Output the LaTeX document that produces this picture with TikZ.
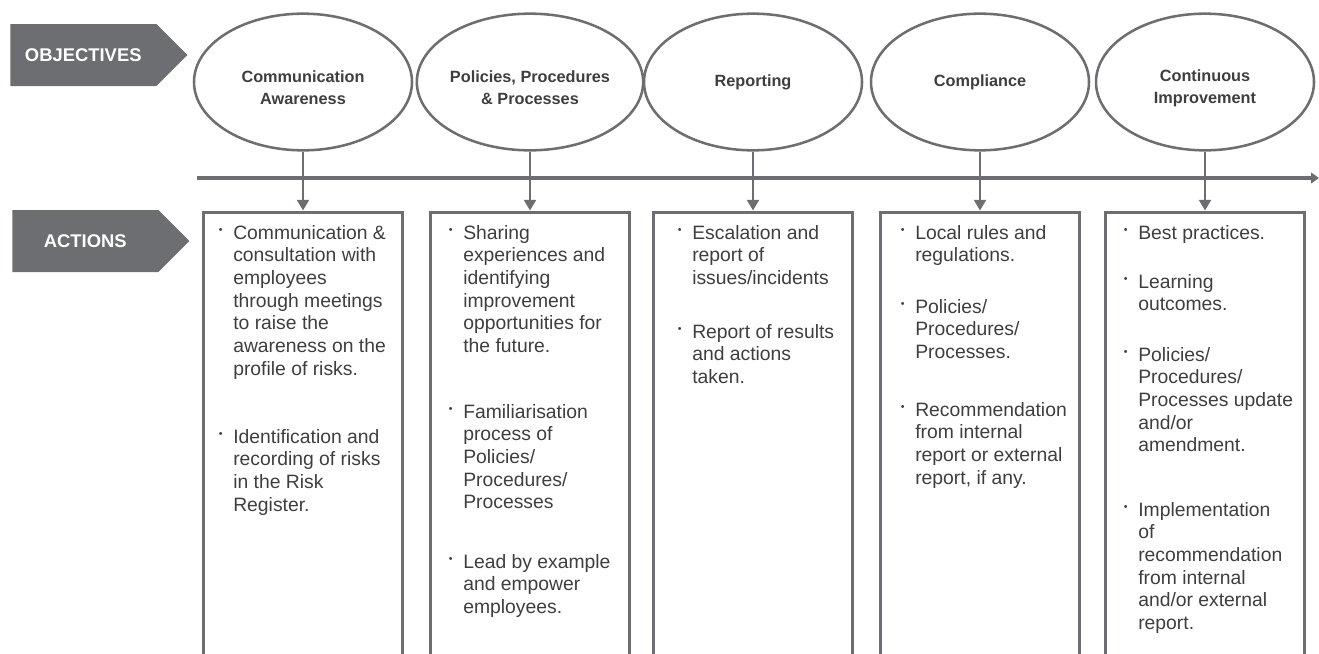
\documentclass[tikz,border=0pt]{standalone}
\usepackage{fontspec}
\setmainfont{Liberation Sans}
\usetikzlibrary{arrows.meta,shapes.geometric,shapes.symbols}

\definecolor{steel}{HTML}{6D6E71}
\definecolor{ink}{HTML}{3E3E3E}
\newcommand{\bul}{\llap{\raisebox{4.6pt}{\fontsize{8}{8}\selectfont\textbullet}\hspace{8pt}}}

\begin{document}
\begin{tikzpicture}[x=0.75pt,y=-0.75pt,
    tag/.style={shape=signal, signal to=east, fill=steel, text=white, inner sep=0pt,
      minimum width=132.75pt, minimum height=46.5pt, font=\fontsize{13.8}{16}\selectfont\bfseries},
    goal/.style={ellipse, draw=steel, line width=1.9pt, minimum width=163.5pt, minimum height=102.5pt,
      inner sep=0pt, align=center, text=ink, font=\fontsize{12.2}{16.5}\selectfont\bfseries},
    actbox/.style={draw=steel, line width=2.3pt, minimum width=149pt, minimum height=360pt,
      anchor=north, inner sep=0pt},
    item/.style={anchor=north west, align=left, inner sep=0pt, text=ink,
      font=\fontsize{14.5}{17}\selectfont},
    link/.style={steel, line width=1.6pt, -{Triangle[length=8pt,width=9pt]}},
    rail/.style={steel, line width=3pt, -{Triangle[length=6pt,width=8pt]}}]
  \useasboundingbox (0,0) rectangle (1319,653);
  \clip (0,0) rectangle (1319,653);

  \node[tag, anchor=west] (objtag) at (10,55) {OBJECTIVES};
  \node[tag, anchor=west] (acttag) at (12,241) {ACTIONS};

  \foreach \i/\x/\txt in {1/303/{\rule{0pt}{17pt}Communication\\Awareness},
      2/530/{\rule{0pt}{17pt}Policies, Procedures\\\& Processes},
      3/753/{Reporting}, 4/980/{Compliance},
      5/1205/{\rule{0pt}{19pt}Continuous\\Improvement}} {
    \node[goal] (obj\i) at (\x,82) {\txt};
    \node[actbox] (act\i) at (\x,210.5) {};
  }

  \coordinate (rail0) at (197,178);
  \coordinate (rail1) at (1319,178);
  \draw[rail] (rail0) -- (rail1);

  \foreach \i in {1,...,5}
    \draw[link] (obj\i.south) -- (act\i.north);

  \node[item] (it11) at (233,225) {\bul Communication \&\\consultation with\\employees\\through meetings\\to raise the\\awareness on the\\profile of risks.};
  \node[item] (it12) at (233,429) {\bul Identification and\\recording of risks\\in the Risk\\Register.};

  \node[item] (it21) at (463,225) {\bul Sharing\\experiences and\\identifying\\improvement\\opportunities for\\the future.};
  \node[item] (it22) at (463,404) {\bul Familiarisation\\process of\\Policies/\\Procedures/\\Processes};
  \node[item] (it23) at (463,554) {\bul Lead by example\\and empower\\employees.};

  \node[item] (it31) at (692,225) {\bul Escalation and\\report of\\issues/incidents};
  \node[item] (it32) at (692,324) {\bul Report of results\\and actions\\taken.};

  \node[item] (it41) at (915,225) {\bul Local rules and\\regulations.};
  \node[item] (it42) at (915,299) {\bul Policies/\\Procedures/\\Processes.};
  \node[item] (it43) at (915,402) {\bul Recommendation\\from internal\\report or external\\report, if any.};

  \node[item] (it51) at (1138,225) {\bul Best practices.};
  \node[item] (it52) at (1138,274) {\bul Learning\\outcomes.};
  \node[item] (it53) at (1138,347) {\bul Policies/\\Procedures/\\Processes update\\and/or\\amendment.};
  \node[item] (it54) at (1138,502) {\bul Implementation\\of\\recommendation\\from internal\\and/or external\\report.};
\end{tikzpicture}
\end{document}
